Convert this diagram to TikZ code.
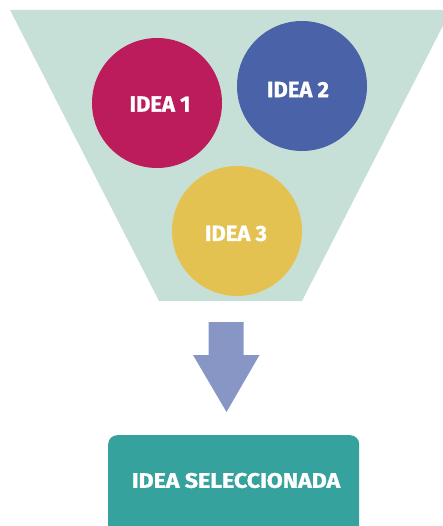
\documentclass[tikz,border=0pt]{standalone}
\usepackage{fontspec}
\setmainfont[BoldFeatures={FakeBold=1.2}]{Fira Sans}
\usetikzlibrary{positioning}

\definecolor{funnelmint}{HTML}{C6E0D7}
\definecolor{ideared}{HTML}{BC1C5B}
\definecolor{ideablue}{HTML}{4A62A7}
\definecolor{ideayellow}{HTML}{E4C252}
\definecolor{arrowblue}{HTML}{8896C6}
\definecolor{boxteal}{HTML}{35A29D}

\begin{document}
\begin{tikzpicture}[x=1pt,y=-1pt,
idea/.style ={circle, minimum size=130pt, inner sep=0pt},
idealabel/.style={text=white, inner sep=0pt, font=\fontsize{22}{22}\selectfont\bfseries},
result/.style={rectangle, rounded corners=9pt, fill=boxteal, minimum width=251pt, minimum height=110pt, anchor=north west},
resultlabel/.style={text=white, inner sep=0pt, font=\fontsize{21}{21}\selectfont\bfseries}]

\useasboundingbox (0,0) rectangle (443,526);
\clip (0,0) rectangle (443,526);

% funnel
\fill[funnelmint] (10,10) -- (451,10) -- (302,301) -- (159,301) -- cycle;

\node[idea, fill=ideared] (I1) at (157,103) {};
\node[idea, fill=ideablue] (I2) at (302,86) {};
\node[idea, fill=ideayellow] (I3) at (237,231) {};
\node[idealabel] (T1) at (160,104) {IDEA 1};
\node[idealabel] (T2) at (298,89.5) {IDEA 2};
\node[idealabel] (T3) at (236,233.5) {IDEA 3};

% arrow
\fill[arrowblue] (208.5,322) -- (243.5,322) -- (243.5,355) -- (259.5,355) -- (226.5,412) -- (193,355) -- (208.5,355) -- cycle;

\node[result] (Sel) at (108,435) {};
\node[resultlabel] (SelText) at (236,480.5) {\scalebox{1.1}[1]{IDEA SELECCIONADA}};

\end{tikzpicture}
\end{document}
